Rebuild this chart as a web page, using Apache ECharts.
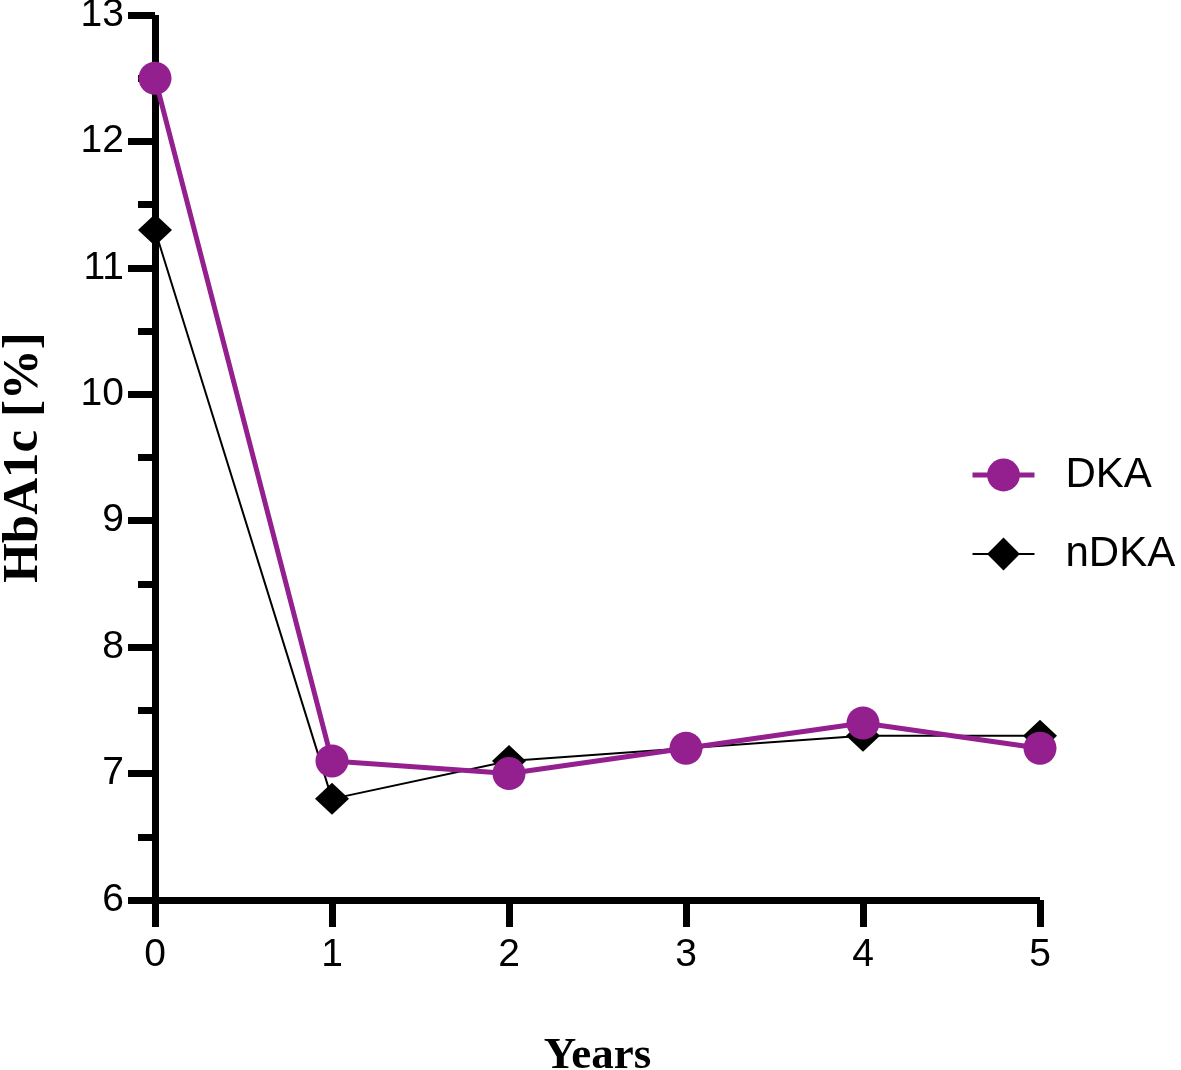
<!DOCTYPE html>
<html>
<head>
<meta charset="utf-8">
<script src="https://cdn.jsdelivr.net/npm/echarts@6/dist/echarts.min.js"></script>
<style>
html,body{margin:0;padding:0;background:#fff;}
#chart{width:1181px;height:1070px;}
</style>
</head>
<body>
<div id="chart"></div>
<script>
var years = [0, 1, 2, 3, 4, 5];
var dka = [12.5, 7.1, 7.0, 7.2, 7.4, 7.2];
var ndka = [11.3, 6.8, 7.1, 7.2, 7.3, 7.3];
var seriesNames = ['DKA', 'nDKA'];
var xTitle = 'Years';
var yTitle = 'HbA1c [%]';

function pairs(xs, ys) { return xs.map(function (x, i) { return [x, ys[i]]; }); }

var chart = echarts.init(document.getElementById('chart'));
var nameFont = { color: '#000', fontWeight: 'bold', fontFamily: 'Liberation Serif, Times New Roman, serif' };
var axisCommon = {
  axisLine: { show: true, lineStyle: { color: '#000', width: 7, cap: 'butt' } },
  axisTick: { show: true, inside: false, length: 27, lineStyle: { color: '#000', width: 7 } },
  axisLabel: { color: '#000', fontSize: 39, fontFamily: 'Liberation Sans, Arial, sans-serif', margin: 31 },
  splitLine: { show: false }
};
chart.setOption({
  animation: false,
  backgroundColor: '#fff',
  grid: { left: 155, right: 141, top: 15, bottom: 170, containLabel: false, outerBoundsMode: 'none' },
  legend: {
    orient: 'vertical', left: 965, top: 449, itemWidth: 62, itemHeight: 41, itemGap: 37,
    data: [
      { name: seriesNames[0], itemStyle: { color: '#94208F' }, lineStyle: { color: '#94208F', width: 5 } },
      { name: seriesNames[1], itemStyle: { color: '#000' }, lineStyle: { color: '#000', width: 2 } }
    ],
    textStyle: { color: '#000', fontSize: 42, fontFamily: 'Liberation Sans, Arial, sans-serif', padding: [0, 0, 0, 26] }
  },
  xAxis: Object.assign({}, axisCommon, {
    type: 'value', min: 0, max: 5, interval: 1,
    name: xTitle, nameLocation: 'middle', nameGap: 134,
    nameTextStyle: Object.assign({ fontSize: 45 }, nameFont),
    axisLabel: Object.assign({}, axisCommon.axisLabel, { margin: 36 })
  }),
  yAxis: Object.assign({}, axisCommon, {
    type: 'value', min: 6, max: 13, interval: 1,
    minorTick: { show: true, splitNumber: 2, length: 17, lineStyle: { color: '#000', width: 7 } },
    name: yTitle, nameLocation: 'middle', nameGap: 106, nameRotate: 90,
    nameTextStyle: Object.assign({ fontSize: 51 }, nameFont)
  }),
  series: [
    {
      name: 'nDKA', type: 'line', data: pairs(years, ndka), z: 2,
      symbol: 'diamond', symbolSize: [34, 32],
      itemStyle: { color: '#000' }, lineStyle: { color: '#000', width: 2 }
    },
    {
      name: 'DKA', type: 'line', data: pairs(years, dka), z: 3,
      symbol: 'circle', symbolSize: 33,
      itemStyle: { color: '#94208F' }, lineStyle: { color: '#94208F', width: 5 }
    }
  ]
});
</script>
</body>
</html>
